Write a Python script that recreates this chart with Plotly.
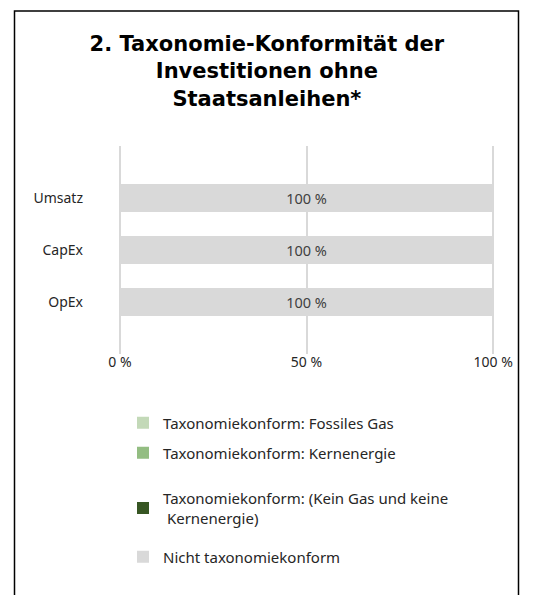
import plotly.graph_objects as go

categories = ["Umsatz", "CapEx", "OpEx"]
series_names = [
    "Taxonomiekonform: Fossiles Gas",
    "Taxonomiekonform: Kernenergie",
    "Taxonomiekonform: (Kein Gas und keine<br>&nbsp;Kernenergie)",
    "Nicht taxonomiekonform",
]
fossil_gas = [0, 0, 0]
nuclear = [0, 0, 0]
no_gas_nuclear = [0, 0, 0]
not_aligned = [100, 100, 100]
series_values = [fossil_gas, nuclear, no_gas_nuclear, not_aligned]
colors = ["#c3d9b8", "#93bd82", "#375623", "#d9d9d9"]
tick_vals = [0, 50, 100]
tick_text = ["0 %", "50 %", "100 %"]

FONT = "Noto Sans, Open Sans, sans-serif"
TITLE_FONT = "DejaVu Sans, Noto Sans, sans-serif"
legend_ids = ["legend", "legend2", "legend3", "legend4"]
legend_yc = [423, 453, 508, 557]

fig = go.Figure()
for i, (name, vals, col) in enumerate(zip(series_names, series_values, colors)):
    show_text = i == 3
    fig.add_trace(go.Bar(
        y=categories, x=vals, name=name, orientation="h",
        marker=dict(color=col, line=dict(width=0)),
        width=0.52,
        text=[f"{v} %" for v in vals] if show_text else None,
        textposition="inside" if show_text else None,
        insidetextanchor="middle",
        textfont=dict(size=14.5, color="#404040", family=FONT),
        legend=legend_ids[i],
        showlegend=True,
        hoverinfo="skip",
    ))

legend_common = dict(
    orientation="v", xref="container", yref="container",
    x=123 / 537, xanchor="left", yanchor="middle",
    font=dict(size=15, color="#262626", family=FONT),
    itemwidth=30, bgcolor="rgba(0,0,0,0)",
)

layout_legends = {}
for lid, yc in zip(legend_ids, legend_yc):
    layout_legends[lid] = dict(legend_common, y=1 - yc / 595)

fig.update_layout(
    width=537, height=595,
    barmode="stack",
    showlegend=True,
    paper_bgcolor="white", plot_bgcolor="white",
    margin=dict(l=118, r=42, t=146, b=241, autoexpand=False),
    font=dict(family=FONT, size=14, color="#262626"),
    title=dict(
        text="<b>2. Taxonomie-Konformität der<br>Investitionen ohne<br>Staatsanleihen*</b>",
        x=0.497, xanchor="center", xref="container",
        y=1 - 51 / 595, yanchor="top", yref="container",
        font=dict(size=21, color="#000000", family=TITLE_FONT),
    ),
    xaxis=dict(
        range=[-0.5, 100.5], tickvals=tick_vals, ticktext=tick_text,
        showgrid=True, gridcolor="#d9d9d9", gridwidth=1.5,
        zeroline=False, showline=False, ticks="",
        tickfont=dict(size=14, color="#262626"),
        ticklabelstandoff=-2, automargin=False,
    ),
    yaxis=dict(
        categoryorder="array", categoryarray=categories,
        autorange=False, range=[3, -1],
        showgrid=False, zeroline=False, showline=False, ticks="",
        tickfont=dict(size=14, color="#262626"),
        ticklabelstandoff=34, automargin=False,
    ),
    shapes=[dict(
        type="rect", xref="paper", yref="paper",
        x0=(14.5 - 118) / 377, x1=(518.5 - 118) / 377,
        y0=-2.0, y1=(595 - 11 - 241) / 208,
        line=dict(color="#000000", width=1.5), fillcolor="rgba(0,0,0,0)",
        layer="below",
    )],
    **layout_legends,
)

fig.write_html(
    "out.html",
    config={"displayModeBar": False},
    post_script="document.body.style.margin='0';document.body.style.padding='0';",
)
